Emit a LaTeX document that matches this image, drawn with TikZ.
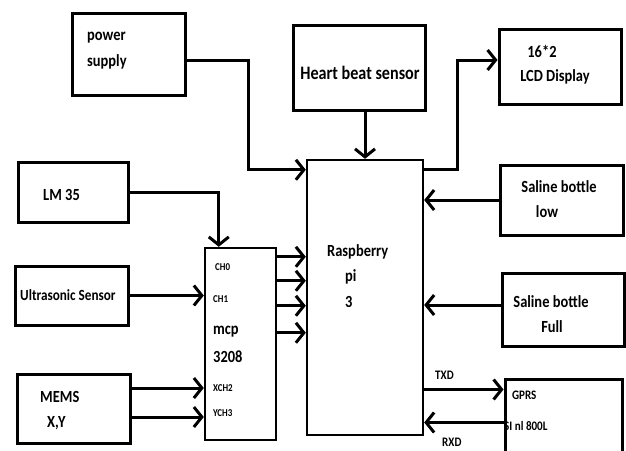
\documentclass[tikz,border=0pt]{standalone}
\usepackage{fontspec}
\setmainfont{Carlito}[FakeStretch=0.85]
\usetikzlibrary{arrows.meta}
\tikzset{
  blk/.style={draw=black, line width=3pt, inner sep=0pt},
  thinblk/.style={draw=black, line width=2.4pt, inner sep=0pt},
  conn/.style={line width=3pt, -{Straight Barb[length=8pt,width=20pt,line width=3pt]}},
  lbl/.style={inner sep=0pt, font=\fontsize{17}{20}\selectfont\bfseries},
  mlbl/.style={inner sep=0pt, font=\fontsize{15.5}{20}\selectfont\bfseries},
  slbl/.style={inner sep=0pt, font=\fontsize{10.5}{12}\selectfont\bfseries},
  tlbl/.style={inner sep=0pt, font=\fontsize{13}{15}\selectfont\bfseries}
}
\begin{document}
\begin{tikzpicture}[x=1pt,y=-1pt]
\useasboundingbox[fill=white] (0,0) rectangle (626,450);
\clip (0,0) rectangle (626,450);
% boxes
\node[blk, minimum width=113pt, minimum height=82pt] (ps) at (128.5,54) {};
\node[blk, minimum width=132pt, minimum height=85pt] (hb) at (359,67.5) {};
\node[blk, minimum width=122pt, minimum height=75pt] (lcd) at (560,66.5) {};
\node[blk, minimum width=110pt, minimum height=60pt] (lm) at (73,192) {};
\node[blk, minimum width=123pt, minimum height=70pt] (sl) at (561.5,200) {};
\node[blk, minimum width=113pt, minimum height=59pt] (us) at (71.5,295.5) {};
\node[blk, minimum width=122pt, minimum height=73pt] (sf) at (563,309.5) {};
\node[blk, minimum width=113pt, minimum height=69pt] (me) at (73.5,408.5) {};
\node[thinblk, minimum width=71pt, minimum height=192pt] (mcp) at (240.5,344) {};
\node[thinblk, minimum width=116pt, minimum height=275pt] (pi) at (365,297.5) {};
\node[blk, minimum width=117pt, minimum height=91pt] (gprs) at (563.5,424.5) {};
% texts
\node[lbl, anchor=west, align=left, font=\fontsize{17}{26}\selectfont\bfseries] (tps) at (87,51) {power\\supply};
\node[lbl, font=\fontsize{19}{22}\selectfont\bfseries] (thb) at (360,73) {Heart beat sensor};
\node[lbl] (tlcda) at (542,51) {16*2};
\node[lbl] (tlcdb) at (555,77) {LCD Display};
\node[lbl, anchor=west] (tlm) at (43,195) {LM 35};
\node[lbl] (tsla) at (559,187) {Saline bottle};
\node[lbl] (tslb) at (547,212) {low};
\node[mlbl, anchor=west] (tus) at (20,295) {Ultrasonic Sensor};
\node[lbl, anchor=west] (tpia) at (327,252) {Raspberry};
\node[lbl, anchor=west] (tpib) at (345,277) {pi};
\node[lbl, anchor=west] (tpic) at (345,302) {3};
\node[lbl] (tsfa) at (551,302) {Saline bottle};
\node[lbl] (tsfb) at (552,327) {Full};
\node[slbl, anchor=west] (tch0) at (215,267) {CH0};
\node[slbl, anchor=west] (tch1) at (213,299) {CH1};
\node[lbl, anchor=west] (tmcpa) at (213,332) {mcp};
\node[lbl, anchor=west] (tmcpb) at (213,357) {3208};
\node[slbl, anchor=west] (tch2) at (213,388) {XCH2};
\node[slbl, anchor=west] (tch3) at (213,413) {YCH3};
\node[lbl, anchor=west] (tmea) at (40,397) {MEMS};
\node[lbl, anchor=west] (tmeb) at (47,423) {X,Y};
\node[tlbl, anchor=west] (ttxd) at (435,375) {TXD};
\node[tlbl, anchor=west] (trxd) at (442,442) {RXD};
\node[tlbl, anchor=west] (tgprsa) at (512,395) {GPRS};
\node[tlbl, anchor=west] (tgprsb) at (504,426) {SI nl 800L};
% connectors
\draw[conn] ([yshift=-6pt]ps.east) -- ++(62,0) |- ([yshift=-11pt]pi.north west);
\draw[conn] (hb.south -| pi.north) -- (pi.north);
\draw[conn] ([yshift=-11pt]pi.north east) -- ++(33,0) |- ([yshift=6.5pt]lcd.west);
\draw[conn] (lm.east) -| ([xshift=15pt]mcp.north west);
\draw[conn] (sl.west) -- (sl.west -| pi.east);
\draw[conn] ([yshift=4.5pt]sf.west) coordinate (sfa) -- (sfa -| pi.east);
\draw[conn] (us.east) -- (us.east -| mcp.west);
\draw[conn] ([yshift=20.5pt]me.east) coordinate (mea) -- (mea -| mcp.west);
\draw[conn] ([yshift=-8.5pt]me.east) coordinate (meb) -- (meb -| mcp.west);
\draw[conn] ([yshift=-10pt]mcp.north east) coordinate (m1) -- (m1 -| pi.west);
\draw[conn] ([yshift=-34pt]mcp.north east) coordinate (m2) -- (m2 -| pi.west);
\draw[conn] ([yshift=-59pt]mcp.north east) coordinate (m3) -- (m3 -| pi.west);
\draw[conn] ([yshift=-86pt]mcp.north east) coordinate (m4) -- (m4 -| pi.west);
\coordinate (g1) at ([yshift=-12pt]gprs.north west);
\draw[conn] (g1 -| pi.east) -- (g1);
\draw[conn] ([yshift=-45pt]gprs.north west) coordinate (g2) -- (g2 -| pi.east);
\end{tikzpicture}
\end{document}
